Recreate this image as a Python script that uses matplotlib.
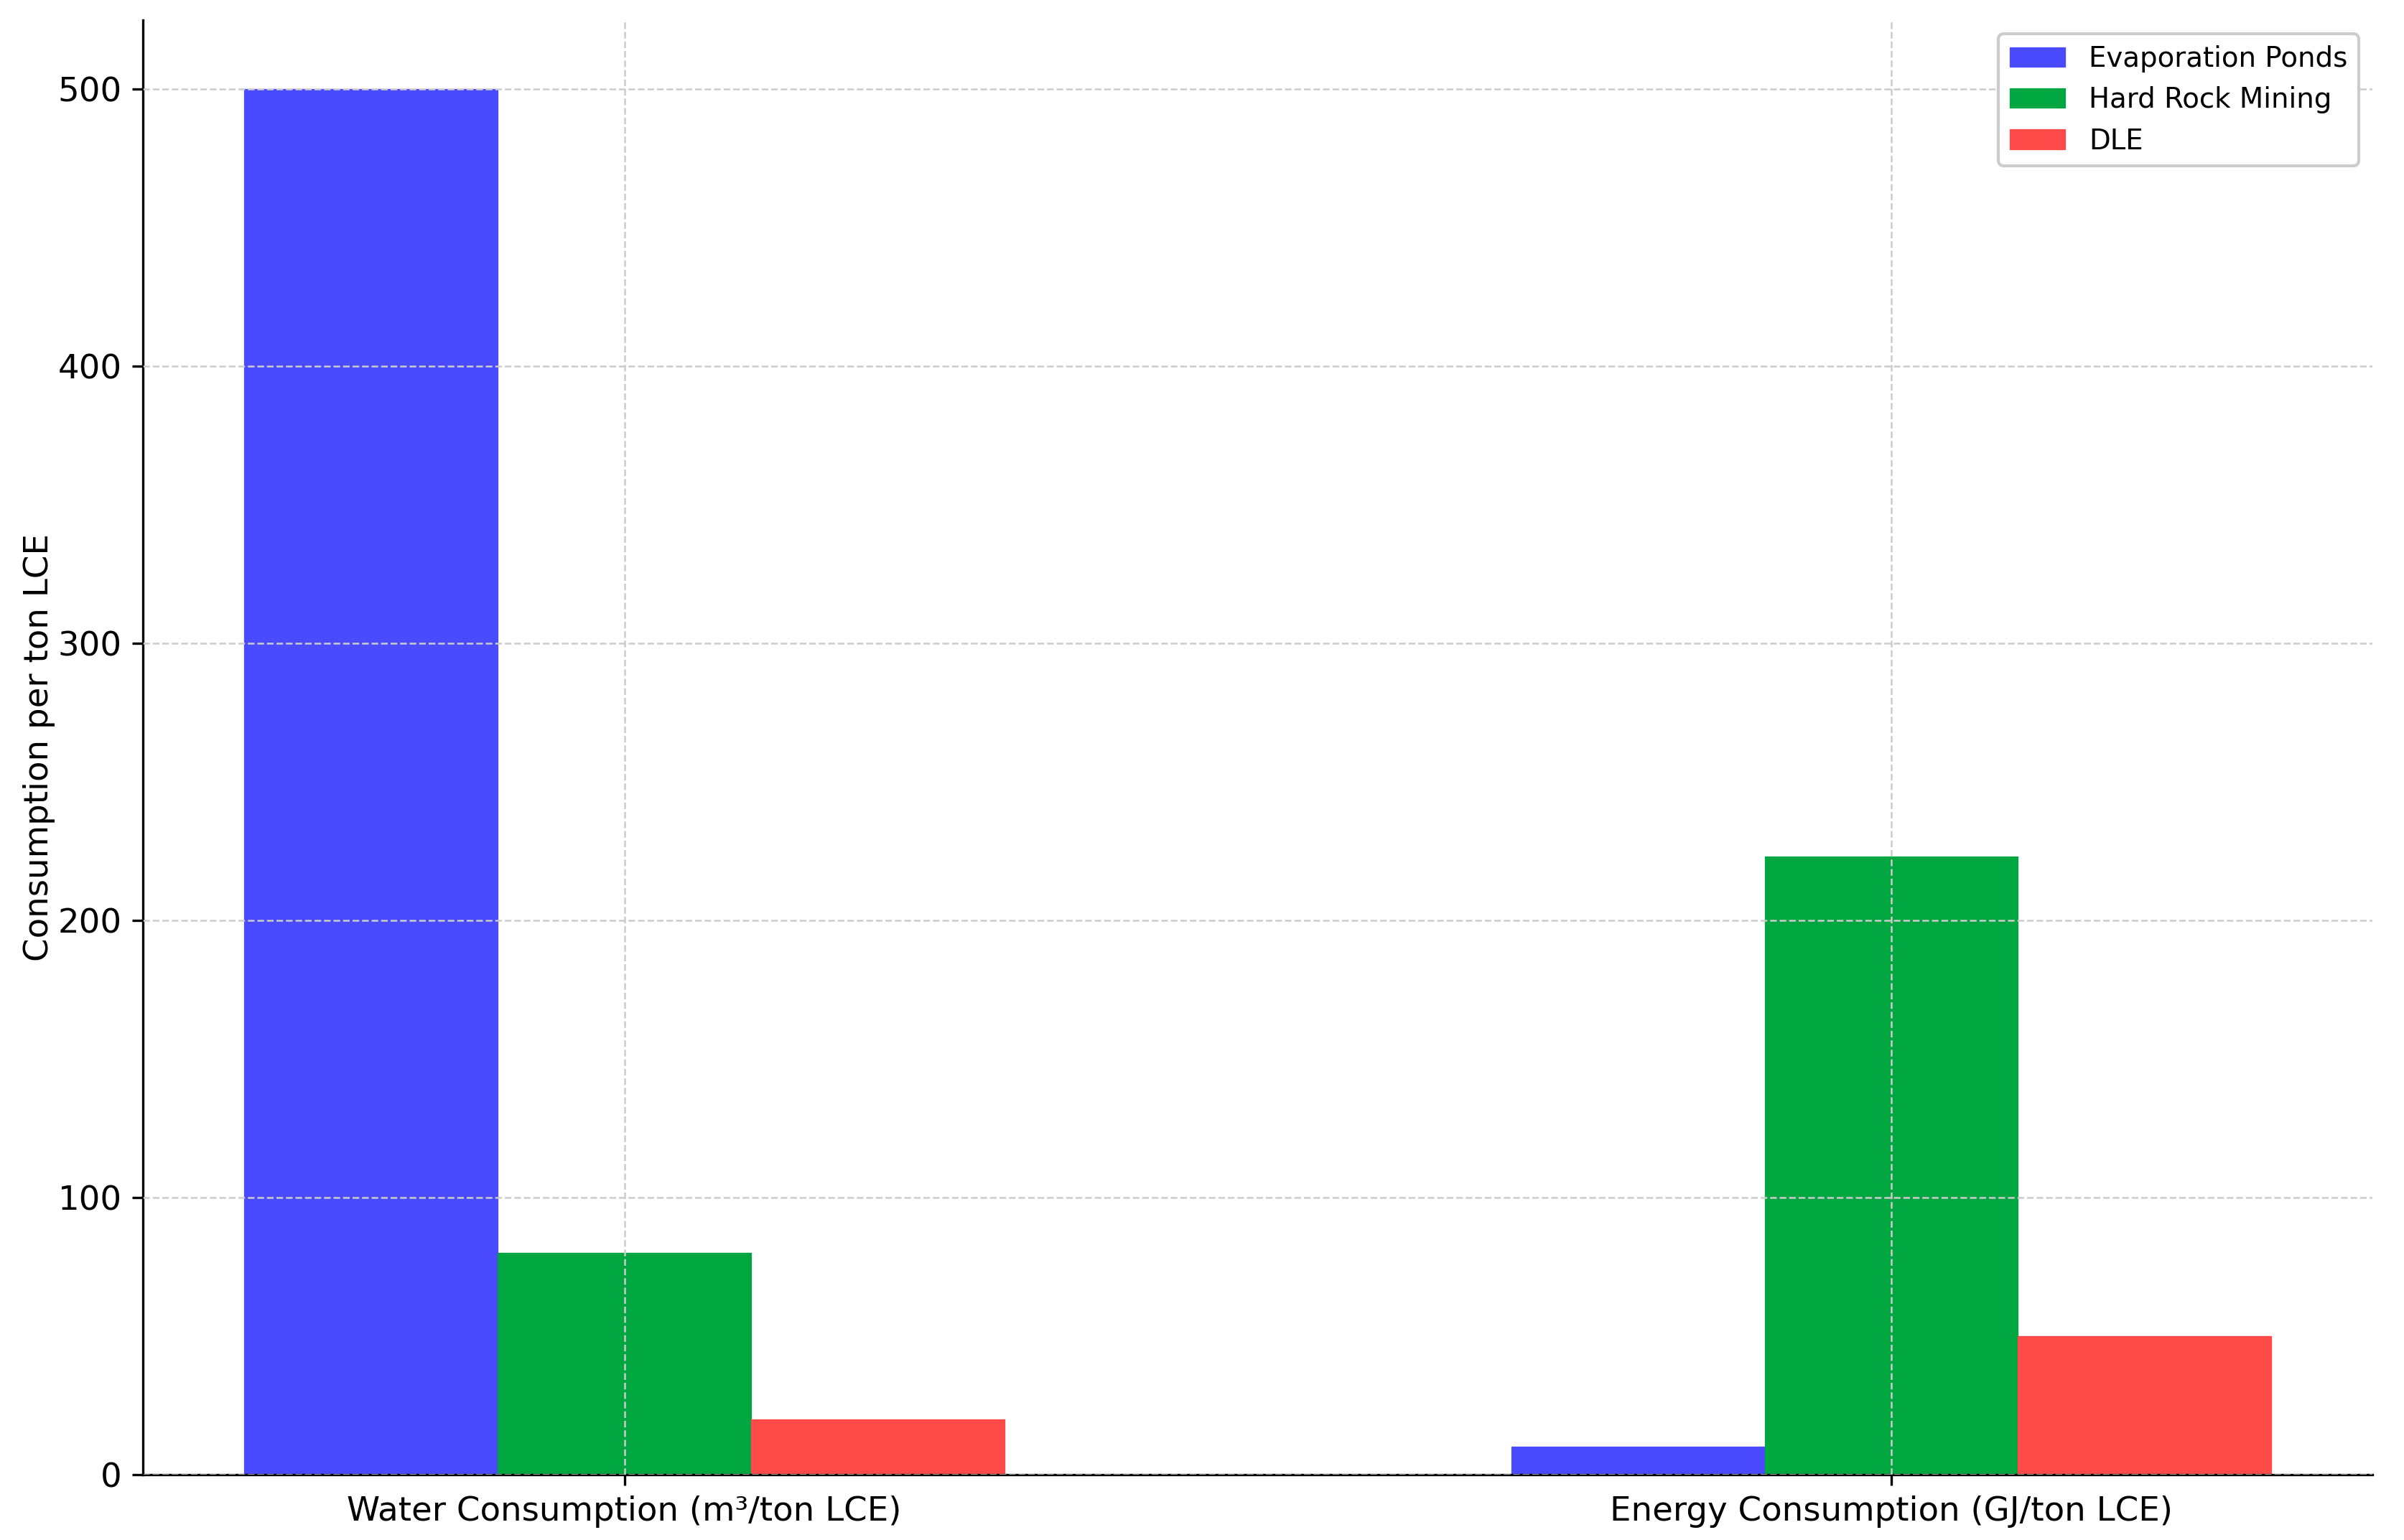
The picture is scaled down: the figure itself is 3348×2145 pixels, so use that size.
import matplotlib
matplotlib.use("Agg")
import matplotlib.pyplot as plt
import numpy as np

# Values
categories = ["Water Consumption (m³/ton LCE)", "Energy Consumption (GJ/ton LCE)"]
evaporation_ponds = [500, 10]
hard_rock_mining = [80, 223]
dle = [20, 50]

series = [
    ("Evaporation Ponds", evaporation_ponds, "#4a4aff"),
    ("Hard Rock Mining", hard_rock_mining, "#00a640"),
    ("DLE", dle, "#ff4a4a"),
]

plt.rcParams["font.family"] = "DejaVu Sans"
plt.rcParams["font.size"] = 11.2

fig, ax = plt.subplots(figsize=(11.16, 7.15), dpi=300)
fig.subplots_adjust(left=0.0595, right=0.987, top=0.987, bottom=0.0425)

x = np.arange(len(categories))
width = 0.2
for i, (name, vals, color) in enumerate(series):
    ax.bar(x + (i - 1) * width, vals, width, color=color, label=name,
           edgecolor=color, linewidth=0.3, zorder=2)

ax.set_xticks(x)
ax.set_xticklabels(categories, fontsize=11.2)
ax.set_ylabel("Consumption per ton LCE", fontsize=11.2, labelpad=1)
ax.tick_params(axis="y", labelsize=11.2)

ax.spines["top"].set_visible(False)
ax.spines["right"].set_visible(False)
ax.grid(True, linestyle="--", color="#cccccc", linewidth=0.6, zorder=0)
ax.set_axisbelow(False)

ax.legend(loc="upper right", fontsize=9.3, frameon=True, edgecolor="#cccccc",
          framealpha=1.0, labelspacing=0.5, handletextpad=0.85)

fig.savefig("out.png", dpi=300)
